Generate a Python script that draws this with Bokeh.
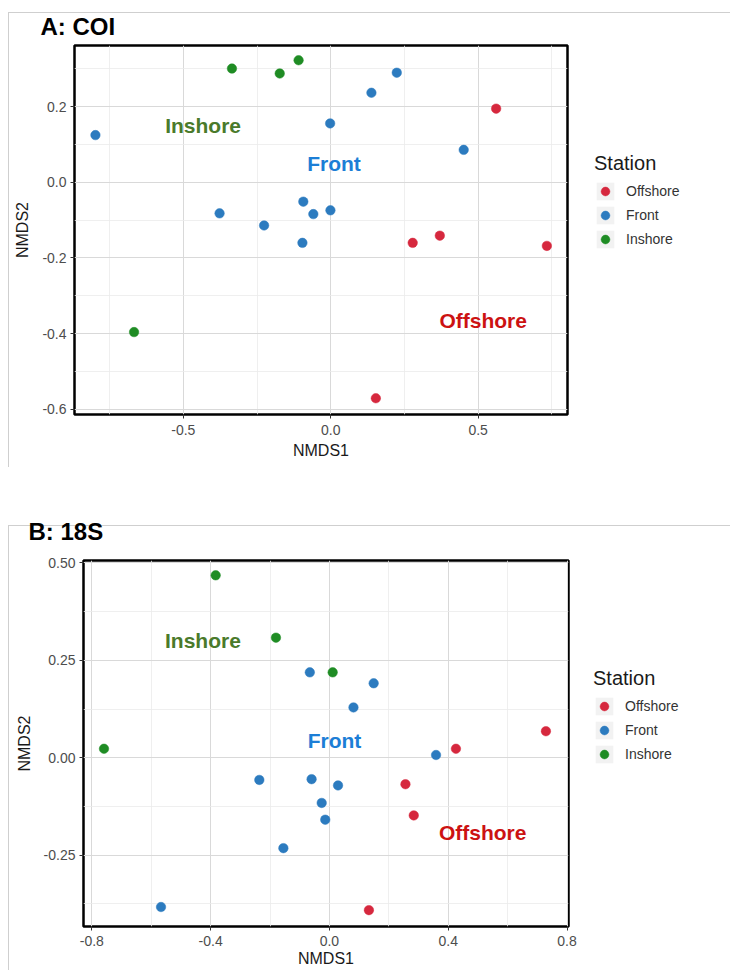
from bokeh.plotting import figure
from bokeh.models import (Range1d, FixedTicker, Legend, LegendItem, Label, Title)
from bokeh.layouts import column, row
from bokeh.embed import file_html
from bokeh.resources import INLINE

# ---------------- data ----------------
STATIONS = ["Offshore", "Front", "Inshore"]
POINT_COLORS = ["#D6283E", "#2C7BBF", "#1F8C24"]
TEXT_COLORS = {"Inshore": "#4A7A2B", "Front": "#1C7ED6", "Offshore": "#CC1212"}

# Panel A: COI
coi_offshore_x = [0.561, 0.278, 0.370, 0.733, 0.153]
coi_offshore_y = [0.195, -0.160, -0.141, -0.168, -0.571]
coi_front_x = [-0.798, 0.224, 0.138, -0.002, 0.451, -0.377, -0.226, -0.093, -0.059, -0.001, -0.096]
coi_front_y = [0.125, 0.290, 0.237, 0.156, 0.086, -0.082, -0.114, -0.051, -0.084, -0.074, -0.160]
coi_inshore_x = [-0.335, -0.173, -0.109, -0.667]
coi_inshore_y = [0.301, 0.288, 0.323, -0.396]
coi_label_x = [-0.433, 0.011, 0.517]
coi_label_y = [0.151, 0.049, -0.365]
coi_label_text = ["Inshore", "Front", "Offshore"]
coi_xticks = [-0.5, 0.0, 0.5]
coi_xtick_labels = ["-0.5", "0.0", "0.5"]
coi_xminor = [-0.75, -0.25, 0.25, 0.75]
coi_yticks = [-0.6, -0.4, -0.2, 0.0, 0.2]
coi_ytick_labels = ["-0.6", "-0.4", "-0.2", "0.0", "0.2"]
coi_yminor = [-0.5, -0.3, -0.1, 0.1, 0.3]

# Panel B: 18S
s18_offshore_x = [0.729, 0.426, 0.256, 0.284, 0.133]
s18_offshore_y = [0.068, 0.023, -0.068, -0.148, -0.391]
s18_front_x = [-0.066, 0.149, 0.081, 0.359, -0.236, -0.060, 0.029, -0.026, -0.014, -0.155, -0.567]
s18_front_y = [0.219, 0.191, 0.129, 0.007, -0.057, -0.055, -0.071, -0.116, -0.159, -0.232, -0.383]
s18_inshore_x = [-0.383, -0.180, 0.011, -0.759]
s18_inshore_y = [0.468, 0.308, 0.219, 0.023]
s18_label_x = [-0.426, 0.017, 0.516]
s18_label_y = [0.302, 0.043, -0.192]
s18_label_text = ["Inshore", "Front", "Offshore"]
s18_xticks = [-0.8, -0.4, 0.0, 0.4, 0.8]
s18_xtick_labels = ["-0.8", "-0.4", "0.0", "0.4", "0.8"]
s18_xminor = [-0.6, -0.2, 0.2, 0.6]
s18_yticks = [-0.25, 0.0, 0.25, 0.5]
s18_ytick_labels = ["-0.25", "0.00", "0.25", "0.50"]
s18_yminor = [-0.375, -0.125, 0.125, 0.375]

FONT = "Liberation Sans"
W = 730
MAIN_W = 580
LINE = "#CFCFCF"
LEGEND_H = 98


def line_styles(x0, y0, width, vheight):
    imgs = [f"linear-gradient({LINE},{LINE})"]
    sizes = [f"{width}px 1px"]
    pos = [f"{x0}px {y0}px"]
    if vheight:
        imgs.append(f"linear-gradient({LINE},{LINE})")
        sizes.append(f"1px {vheight}px")
        pos.append(f"{x0}px {y0}px")
    return {"background-color": "white", "background-image": ", ".join(imgs),
            "background-size": ", ".join(sizes), "background-position": ", ".join(pos),
            "background-repeat": "no-repeat"}


def make_panel(title, height, frame_l, frame_r, frame_t, frame_b, xr, yr,
               series, labels, xt, xtl, xm, yt, ytl, ym,
               title_x, title_standoff, legend_xy, ylab_standoff,
               xlab_standoffs, box):
    bx, by, bh = box
    p = figure(width=MAIN_W, height=height, output_backend="svg", toolbar_location=None,
               x_range=Range1d(*xr), y_range=Range1d(*yr),
               min_border_left=frame_l, min_border_right=MAIN_W - frame_r,
               min_border_top=frame_t, min_border_bottom=height - frame_b,
               styles=line_styles(bx, by, MAIN_W - bx, bh))
    p.background_fill_color = "white"
    p.border_fill_color = None
    p.outline_line_color = "black"
    p.outline_line_width = 2.5

    p.title = Title(text=title, align="left", offset=title_x - frame_l,
                    text_font=FONT, text_font_size="24px", text_font_style="bold",
                    text_color="black", standoff=title_standoff)

    p.xaxis.ticker = FixedTicker(ticks=xt, minor_ticks=xm)
    p.yaxis.ticker = FixedTicker(ticks=yt, minor_ticks=ym)
    p.xaxis.major_label_overrides = {v: s for v, s in zip(xt, xtl)}
    p.yaxis.major_label_overrides = {v: s for v, s in zip(yt, ytl)}
    p.xaxis.axis_label = "NMDS1"
    p.yaxis.axis_label = "NMDS2"
    for ax in (p.xaxis[0], p.yaxis[0]):
        ax.axis_line_color = None
        ax.major_tick_line_color = "#333333"
        ax.major_tick_out = 4
        ax.major_tick_in = 0
        ax.minor_tick_out = 0
        ax.minor_tick_in = 0
        ax.major_label_text_font = FONT
        ax.major_label_text_font_size = "14px"
        ax.major_label_text_color = "#4D4D4D"
        ax.axis_label_text_font = FONT
        ax.axis_label_text_font_size = "16px"
        ax.axis_label_text_font_style = "normal"
        ax.axis_label_text_color = "#1A1A1A"
    p.xaxis.major_label_standoff = xlab_standoffs[0]
    p.xaxis.axis_label_standoff = xlab_standoffs[1]
    p.yaxis.major_label_standoff = 4
    p.yaxis.axis_label_standoff = ylab_standoff

    for g in (p.xgrid[0], p.ygrid[0]):
        g.grid_line_color = "#D9D9D9"
        g.grid_line_width = 1
        g.minor_grid_line_color = "#EBEBEB"
        g.minor_grid_line_width = 0.8

    for name, color, (xs, ys) in zip(STATIONS, POINT_COLORS, series):
        p.scatter(x=xs, y=ys, size=9.5, fill_color=color, line_color=color, line_width=0.5)

    for lx, ly, lt in zip(*labels):
        p.add_layout(Label(x=lx, y=ly, text=lt, text_font=FONT, text_font_size="21px",
                           text_font_style="bold", text_color=TEXT_COLORS[lt],
                           text_align="center", text_baseline="middle"))

    # ---- legend panel (separate canvas to the right; its frame aligns with p's) ----
    lw = W - MAIN_W
    q = figure(width=lw, height=height, output_backend="svg", toolbar_location=None,
               x_range=Range1d(10, 11), y_range=Range1d(10, 11),
               x_axis_location=None, y_axis_location=None,
               min_border_left=0, min_border_right=0, min_border_top=0, min_border_bottom=0,
               styles=line_styles(0, by, lw, 0))
    q.outline_line_color = None
    q.background_fill_color = None
    q.border_fill_color = None
    q.grid.visible = False
    # key background (outside the visible range, only used by the legend)
    bg = q.quad(left=[0], right=[1], bottom=[0], top=[1], fill_color="#F2F2F2", line_color=None)
    items = []
    for name, color, (xs, ys) in zip(STATIONS, POINT_COLORS, series):
        r = q.scatter(x=xs, y=ys, size=9.5, fill_color=color, line_color=color, line_width=0.5)
        items.append(LegendItem(label=name, renderers=[bg, r]))
    legend = Legend(items=items,
                    location=(legend_xy[0] - MAIN_W, frame_b - legend_xy[1] - LEGEND_H),
                    title="Station", title_text_font=FONT, title_text_font_size="20px",
                    title_text_font_style="normal", title_text_color="#1A1A1A",
                    title_standoff=5,
                    label_text_font=FONT, label_text_font_size="14px", label_text_color="#333333",
                    glyph_width=22, glyph_height=22, spacing=2, label_standoff=10,
                    padding=0, margin=0, background_fill_alpha=0, border_line_color=None)
    q.add_layout(legend)
    return row(p, q, spacing=0)


pA = make_panel("A: COI", 488, 74, 567, 45, 414, (-0.869, 0.803), (-0.614, 0.362),
                [(coi_offshore_x, coi_offshore_y), (coi_front_x, coi_front_y),
                 (coi_inshore_x, coi_inshore_y)],
                (coi_label_x, coi_label_y, coi_label_text),
                coi_xticks, coi_xtick_labels, coi_xminor,
                coi_yticks, coi_ytick_labels, coi_yminor,
                title_x=40, title_standoff=12, legend_xy=(594, 152), ylab_standoff=8,
                xlab_standoffs=(6, 4), box=(8, 12, 455))

pB = make_panel("B: 18S", 482, 83, 568, 72, 438, (-0.828, 0.805), (-0.433, 0.506),
                [(s18_offshore_x, s18_offshore_y), (s18_front_x, s18_front_y),
                 (s18_inshore_x, s18_inshore_y)],
                (s18_label_x, s18_label_y, s18_label_text),
                s18_xticks, s18_xtick_labels, s18_xminor,
                s18_yticks, s18_ytick_labels, s18_yminor,
                title_x=28, title_standoff=31, legend_xy=(593, 179), ylab_standoff=8,
                xlab_standoffs=(5, 1), box=(8, 37, 445))

layout = column(pA, pB, spacing=0)
open("out.html", "w").write(file_html(layout, INLINE))
